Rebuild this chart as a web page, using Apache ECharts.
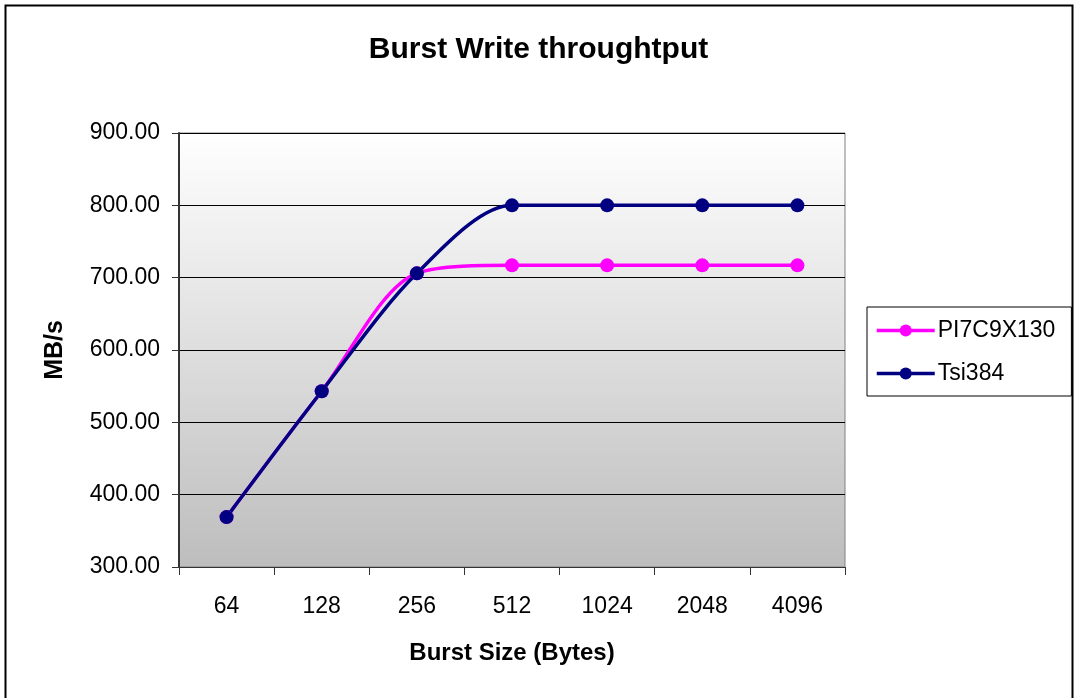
<!DOCTYPE html>
<html>
<head>
<meta charset="utf-8">
<script src="https://cdn.jsdelivr.net/npm/echarts@6/dist/echarts.min.js"></script>
<style>
  html, body { margin: 0; padding: 0; background: #fff; }
  #chart_container { width: 1077px; height: 698px; }
</style>
</head>
<body>
<div id="chart_container"></div>
<script>
var burst_sizes = ['64', '128', '256', '512', '1024', '2048', '4096'];
var pi7c9x130_values = [369, 543, 706, 717, 717, 717, 717];
var tsi384_values = [369, 543, 706, 800, 800, 800, 800];
var y_ticks = { min: 300, max: 900, interval: 100 };

var chart_burst = echarts.init(document.getElementById('chart_container'));
var font = 'Liberation Sans, Arial, sans-serif';

var option = {
  animation: false,
  backgroundColor: '#fff',
  textStyle: { fontFamily: font },
  graphic: [{
    type: 'rect',
    shape: { x: 5.5, y: 5.5, width: 1067, height: 700 },
    style: { fill: 'none', stroke: '#000', lineWidth: 2 },
    silent: true
  }],
  title: {
    text: 'Burst Write throughtput',
    left: 'center',
    top: 30,
    textStyle: { fontFamily: font, fontSize: 30, fontWeight: 'bold', color: '#000' }
  },
  legend: {
    orient: 'vertical',
    left: 867,
    top: 307,
    itemWidth: 58,
    itemHeight: 15,
    itemGap: 20,
    padding: [12, 16, 11, 8],
    borderColor: '#000',
    borderWidth: 1,
    lineStyle: { width: 3.5 },
    textStyle: { fontFamily: font, fontSize: 23, color: '#000', padding: [0, 0, 0, -2] },
    data: ['PI7C9X130', 'Tsi384']
  },
  grid: {
    left: 179,
    right: 232,
    top: 133,
    bottom: 131,
    show: true,
    borderColor: '#808080',
    borderWidth: 1,
    backgroundColor: new echarts.graphic.LinearGradient(0, 0, 0, 1, [
      { offset: 0, color: '#ffffff' },
      { offset: 1, color: '#bdbdbd' }
    ])
  },
  xAxis: {
    type: 'category',
    data: burst_sizes,
    boundaryGap: true,
    name: 'Burst Size (Bytes)',
    nameLocation: 'middle',
    nameGap: 74,
    nameTextStyle: { fontFamily: font, fontSize: 24, fontWeight: 'bold', color: '#000' },
    axisLine: { lineStyle: { color: '#333', width: 1 } },
    axisTick: { show: true, length: 8, alignWithLabel: false, lineStyle: { color: '#333' } },
    axisLabel: { fontFamily: font, fontSize: 23, color: '#000', margin: 28 }
  },
  yAxis: {
    type: 'value',
    min: y_ticks.min,
    max: y_ticks.max,
    interval: y_ticks.interval,
    name: 'MB/s',
    nameLocation: 'middle',
    nameRotate: 90,
    nameGap: 111,
    nameTextStyle: { fontFamily: font, fontSize: 25, fontWeight: 'bold', color: '#000' },
    axisLine: { show: true, lineStyle: { color: '#333', width: 2 } },
    axisTick: { show: true, length: 7, inside: false, lineStyle: { color: '#333' } },
    axisLabel: {
      fontFamily: font, fontSize: 23, color: '#000', margin: 19,
      formatter: function (v) { return v.toFixed(2); }
    },
    splitLine: { show: true, lineStyle: { color: '#000', width: 1 } }
  },
  series: [
    {
      name: 'PI7C9X130',
      type: 'line',
      data: pi7c9x130_values,
      smooth: 0.3,
      symbol: 'circle',
      symbolSize: 14,
      lineStyle: { color: '#ff00ff', width: 3.5 },
      itemStyle: { color: '#ff00ff' }
    },
    {
      name: 'Tsi384',
      type: 'line',
      data: tsi384_values,
      smooth: 0.3,
      symbol: 'circle',
      symbolSize: 14,
      lineStyle: { color: '#000080', width: 3.5 },
      itemStyle: { color: '#000080' }
    }
  ]
};
chart_burst.setOption(option);
</script>
</body>
</html>
